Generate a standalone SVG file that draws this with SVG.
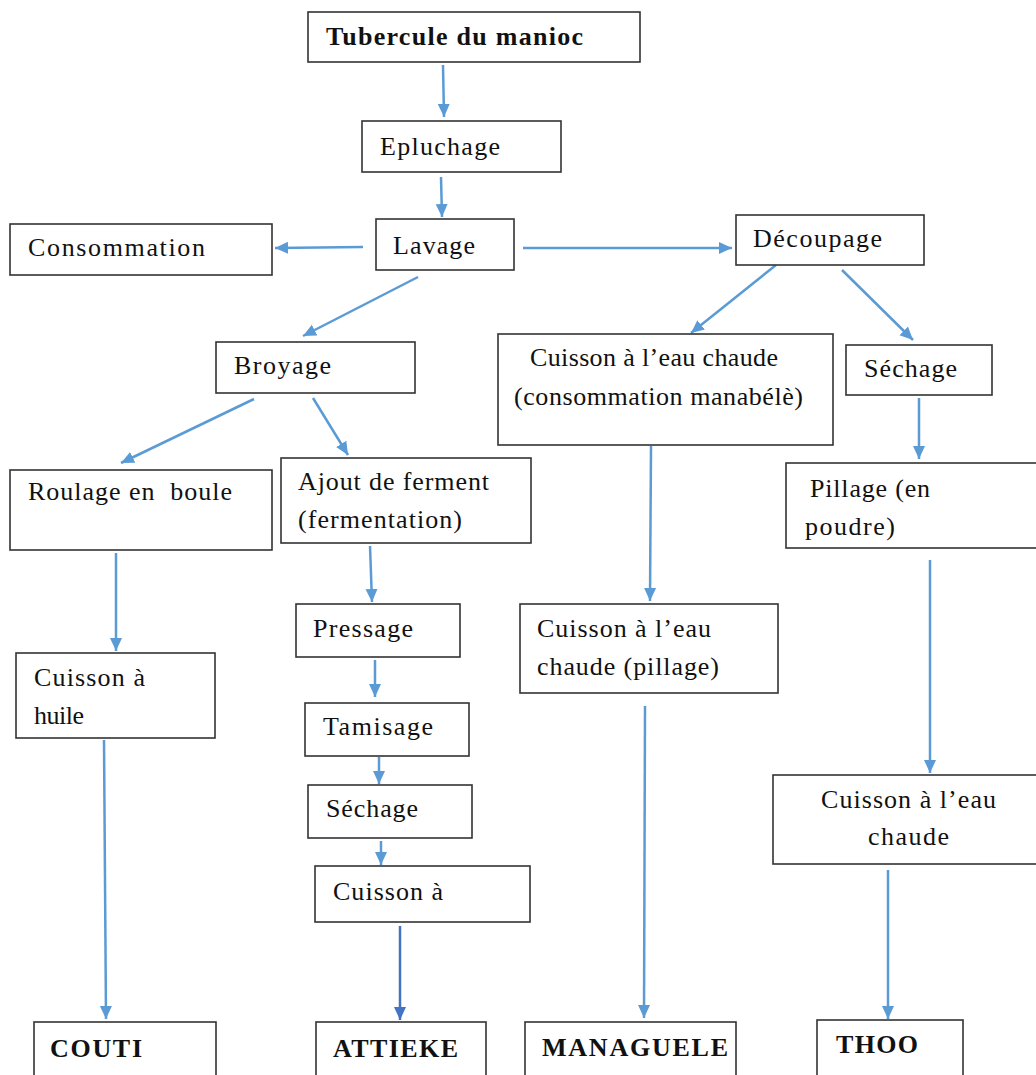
<svg xmlns="http://www.w3.org/2000/svg" width="1036" height="1075" viewBox="0 0 1036 1075">
<style>
.box{fill:#fff;stroke:#333;stroke-width:1.6}
.t{font-family:"Liberation Serif","Times New Roman",serif;font-size:26px;fill:#111}
.b{font-weight:bold}
.c{fill:none;stroke:#5B9BD5;stroke-width:2.5;marker-end:url(#ah)}
.c2{fill:none;stroke:#4472C4;stroke-width:2.5;marker-end:url(#ah2)}
</style>
<defs>
<marker id="ah" markerUnits="userSpaceOnUse" markerWidth="14" markerHeight="14" refX="13" refY="7" orient="auto"><path d="M0,1 L13,7 L0,13 z" fill="#5B9BD5"/></marker>
<marker id="ah2" markerUnits="userSpaceOnUse" markerWidth="14" markerHeight="14" refX="13" refY="7" orient="auto"><path d="M0,1 L13,7 L0,13 z" fill="#4472C4"/></marker>
</defs>
<rect width="1036" height="1075" fill="#fff"/>
<g id="connectors">
<line class="c" x1="443" y1="65" x2="444" y2="117"/>
<line class="c" x1="441" y1="177" x2="442" y2="217"/>
<line class="c" x1="363" y1="247" x2="275" y2="248"/>
<line class="c" x1="523" y1="248" x2="732" y2="248"/>
<line class="c" x1="418" y1="277" x2="303" y2="336"/>
<line class="c" x1="776" y1="265" x2="691" y2="333"/>
<line class="c" x1="842" y1="270" x2="913" y2="340"/>
<line class="c" x1="254" y1="399" x2="121" y2="463"/>
<line class="c" x1="313" y1="398" x2="348" y2="455"/>
<line class="c" x1="919" y1="398" x2="919" y2="459"/>
<line class="c" x1="116" y1="553" x2="116" y2="651"/>
<line class="c" x1="370" y1="546" x2="372" y2="602"/>
<line class="c" x1="375" y1="660" x2="375" y2="697"/>
<line class="c" x1="379" y1="757" x2="379" y2="784"/>
<line class="c" x1="381" y1="841" x2="381" y2="865"/>
<line class="c2" x1="400" y1="926" x2="400" y2="1020"/>
<line class="c" x1="651" y1="446" x2="650" y2="601"/>
<line class="c" x1="930" y1="560" x2="930" y2="773"/>
<line class="c" x1="104" y1="740" x2="106" y2="1019"/>
<line class="c" x1="645" y1="706" x2="644" y2="1018"/>
<line class="c" x1="888" y1="870" x2="888" y2="1019"/>
</g>
<g id="n-tubercule"><rect class="box" x="308" y="12" width="332" height="50"/><text class="t b" x="326" y="45" textLength="257" lengthAdjust="spacing">Tubercule du manioc</text></g>
<g id="n-epluchage"><rect class="box" x="362" y="121" width="199" height="51"/><text class="t" x="380" y="155" textLength="120" lengthAdjust="spacing">Epluchage</text></g>
<g id="n-lavage"><rect class="box" x="376" y="219" width="138" height="51"/><text class="t" x="393" y="254" textLength="82" lengthAdjust="spacing">Lavage</text></g>
<g id="n-consommation"><rect class="box" x="10" y="224" width="262" height="51"/><text class="t" x="28" y="256" textLength="177" lengthAdjust="spacing">Consommation</text></g>
<g id="n-decoupage"><rect class="box" x="736" y="215" width="188" height="50"/><text class="t" x="753" y="247" textLength="129" lengthAdjust="spacing">Découpage</text></g>
<g id="n-broyage"><rect class="box" x="216" y="342" width="199" height="51"/><text class="t" x="234" y="374" textLength="97" lengthAdjust="spacing">Broyage</text></g>
<g id="n-cuisson-manabele"><rect class="box" x="498" y="334" width="335" height="111"/><text class="t" x="530" y="366" textLength="248" lengthAdjust="spacing">Cuisson à l’eau chaude</text><text class="t" x="514" y="405" textLength="289" lengthAdjust="spacing">(consommation manabélè)</text></g>
<g id="n-sechage-r"><rect class="box" x="846" y="345" width="146" height="50"/><text class="t" x="864" y="377" textLength="93" lengthAdjust="spacing">Séchage</text></g>
<g id="n-roulage"><rect class="box" x="10" y="470" width="262" height="80"/><text class="t" x="28" y="500" textLength="204" lengthAdjust="spacing" xml:space="preserve">Roulage en  boule</text></g>
<g id="n-ajout"><rect class="box" x="281" y="458" width="250" height="85"/><text class="t" x="298" y="490" textLength="191" lengthAdjust="spacing">Ajout de ferment</text><text class="t" x="298" y="528" textLength="164" lengthAdjust="spacing">(fermentation)</text></g>
<g id="n-pillage"><rect class="box" x="786" y="463" width="260" height="85"/><text class="t" x="810" y="497" textLength="120" lengthAdjust="spacing">Pillage (en</text><text class="t" x="805" y="535" textLength="90" lengthAdjust="spacing">poudre)</text></g>
<g id="n-pressage"><rect class="box" x="296" y="604" width="164" height="53"/><text class="t" x="313" y="637" textLength="100" lengthAdjust="spacing">Pressage</text></g>
<g id="n-cuisson-pillage"><rect class="box" x="520" y="604" width="258" height="89"/><text class="t" x="537" y="637" textLength="174" lengthAdjust="spacing">Cuisson à l’eau</text><text class="t" x="537" y="675" textLength="182" lengthAdjust="spacing">chaude (pillage)</text></g>
<g id="n-cuisson-huile"><rect class="box" x="16" y="653" width="199" height="85"/><text class="t" x="34" y="686" textLength="111" lengthAdjust="spacing">Cuisson à</text><text class="t" x="34" y="724" textLength="50" lengthAdjust="spacing">huile</text></g>
<g id="n-tamisage"><rect class="box" x="305" y="703" width="164" height="53"/><text class="t" x="323" y="735" textLength="110" lengthAdjust="spacing">Tamisage</text></g>
<g id="n-sechage-m"><rect class="box" x="308" y="785" width="164" height="53"/><text class="t" x="326" y="817" textLength="92" lengthAdjust="spacing">Séchage</text></g>
<g id="n-cuisson-a"><rect class="box" x="315" y="866" width="215" height="56"/><text class="t" x="333" y="900" textLength="110" lengthAdjust="spacing">Cuisson à</text></g>
<g id="n-cuisson-eau"><rect class="box" x="773" y="775" width="273" height="89"/><text class="t" x="821" y="808" textLength="175" lengthAdjust="spacing">Cuisson à l’eau</text><text class="t" x="868" y="845" textLength="81" lengthAdjust="spacing">chaude</text></g>
<g id="n-couti"><rect class="box" x="34" y="1022" width="182" height="70"/><text class="t b" x="50" y="1057" textLength="92" lengthAdjust="spacing">COUTI</text></g>
<g id="n-attieke"><rect class="box" x="316" y="1022" width="170" height="70"/><text class="t b" x="333" y="1057" textLength="125" lengthAdjust="spacing">ATTIEKE</text></g>
<g id="n-managuele"><rect class="box" x="525" y="1022" width="211" height="70"/><text class="t b" x="542" y="1056" textLength="186" lengthAdjust="spacing">MANAGUELE</text></g>
<g id="n-thoo"><rect class="box" x="817" y="1020" width="146" height="70"/><text class="t b" x="836" y="1053" textLength="82" lengthAdjust="spacing">THOO</text></g>
</svg>
